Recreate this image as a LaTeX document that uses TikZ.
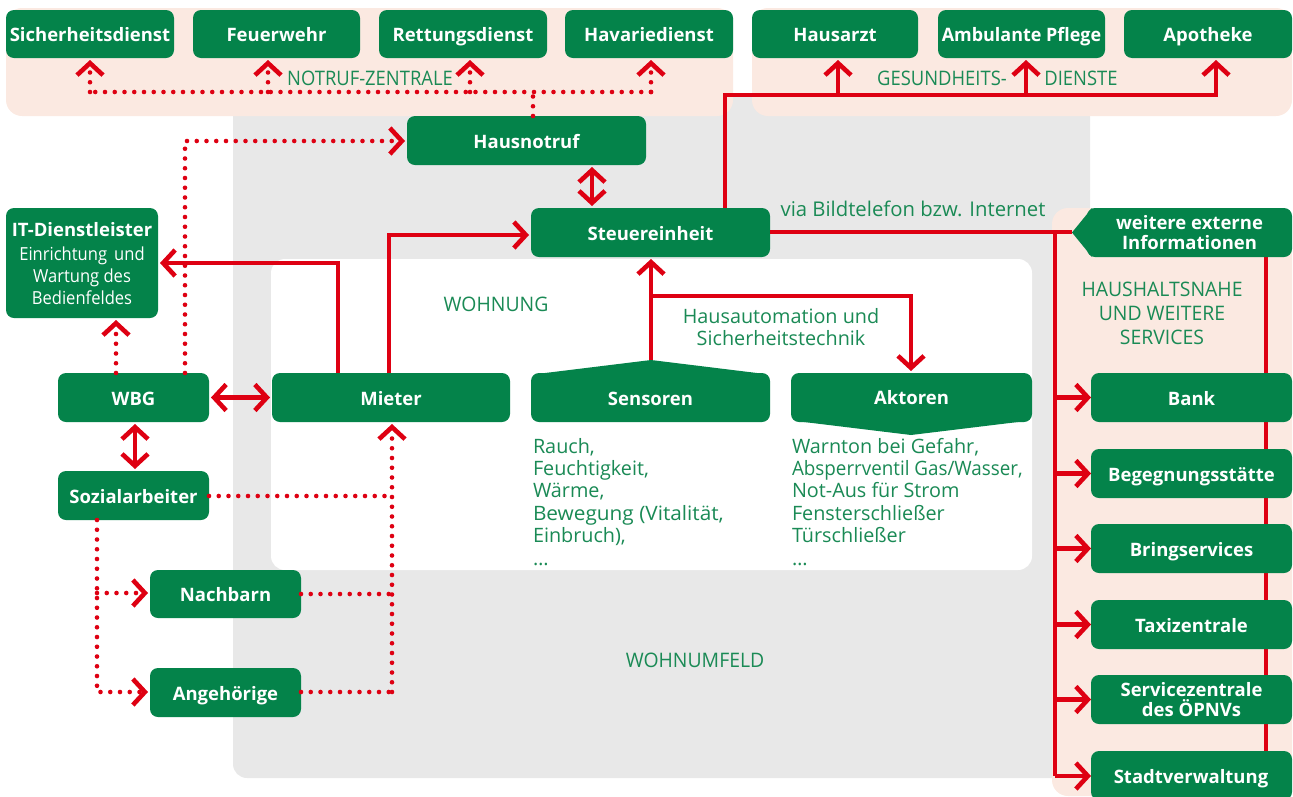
\documentclass[tikz,border=0pt]{standalone}
\usepackage{fontspec}
\setmainfont{Open Sans}
\usetikzlibrary{arrows.meta,calc}
\definecolor{gbox}{HTML}{04834A}
\definecolor{gtxt}{HTML}{1A8A55}
\definecolor{rline}{HTML}{DE0012}
\definecolor{pale}{HTML}{FBE9E1}
\definecolor{greybg}{HTML}{E8E8E8}
\tikzset{
  greenbox/.style={fill=gbox,text=white,rounded corners=8pt,inner sep=0pt,outer sep=0pt,align=center,
    font=\fontsize{18.5}{19.5}\selectfont\bfseries},
  oneline/.style={text height=15.5pt,text depth=0.5pt},
  lbl/.style={text=gtxt,inner sep=0pt,outer sep=0pt,font=\fontsize{19.8}{22.4}\selectfont},
  thin label/.style={text=gtxt,inner sep=0pt,outer sep=0pt,font=\fontsize{20}{24}\selectfont},
  redtip/.style={-{Straight Barb[length=12pt,width=26pt,line width=4.6pt]}},
  redboth/.style={{Straight Barb[length=12pt,width=26pt,line width=4.6pt]}-{Straight Barb[length=12pt,width=26pt,line width=4.6pt]}},
  solidline/.style={draw=rline,line width=4.3pt,line join=miter},
  dotline/.style={draw=rline,line width=4.6pt,line cap=round,dash pattern=on 0pt off 9.75pt},
  gap/.style={shorten >=2pt},
  gaps/.style={shorten >=2pt,shorten <=2pt},
}
\newcommand{\bx}[7][oneline]{\node[greenbox,#1,minimum width={(#5-#3)*1pt},minimum height={(#6-#4)*1pt}] (#2) at ({(#3+#5)/2},{(#4+#6)/2}) {#7};}
\begin{document}
\begin{tikzpicture}[x=1pt,y=-1pt]
\useasboundingbox (0,0) rectangle (1293,796);
% backgrounds
\fill[greybg,rounded corners=14pt] (233,95) rectangle (1090,778);
\fill[white,rounded corners=14pt] (271,259) rectangle (1032,570);
\fill[pale,rounded corners=16pt] (6,8) rectangle (733,116);
\fill[pale,rounded corners=16pt] (752,8) rectangle (1292,116);
\fill[pale,rounded corners=16pt] (1052,208) -- (1292,208) -- (1292,796) -- (1052,796) -- cycle;
% connectors behind boxes
\coordinate (sensortip) at (651,360);
\coordinate (aktortop) at (911,373);
\coordinate (weiteretip) at (1072,232);
% boxes
\bx{sicher}{6}{10}{174}{58}{Sicherheitsdienst}
\bx{feuer}{193}{10}{360}{58}{Feuerwehr}
\bx{rett}{379}{10}{547}{58}{Rettungsdienst}
\bx{hav}{565}{10}{733}{58}{Havariedienst}
\bx{arzt}{752}{10}{918}{58}{Hausarzt}
\bx{pflege}{938}{10}{1105}{58}{\scalebox{.97}[1]{Ambulante Pflege}}
\bx{apo}{1124}{10}{1292}{58}{Apotheke}
\bx{hn}{407}{116}{646}{165}{Hausnotruf}
\bx{steuer}{531}{208}{770}{257}{Steuereinheit}
\bx{wbg}{58}{373}{209}{422}{WBG}
\bx{mieter}{272}{373}{510}{422}{Mieter}
\bx{sozial}{58}{471}{209}{520}{Sozialarbeiter}
\bx{nachbarn}{150}{570}{301}{618}{Nachbarn}
\bx{angeh}{150}{668}{301}{717}{Angehörige}
\fill[gbox] (541,373.5) -- (651,360) -- (761,373.5) -- cycle;
\bx{sens}{531}{373}{770}{422}{Sensoren}
\fill[gbox] (800,421.5) -- (911,435) -- (1022,421.5) -- cycle;
\bx{akt}{791}{373}{1032}{422}{\raisebox{1pt}{Aktoren}}
\node[greenbox,minimum width=152pt,minimum height=110pt] (it) at (82,263) {};
\node[text=white,inner sep=0pt,align=center,font=\fontsize{18.5}{19.5}\selectfont\bfseries] (ittitle) at (82,230) {IT-Dienstleister};
\node[text=white,inner sep=0pt,align=center,font=\fontsize{18}{22}\selectfont] (ittext) at (82,276) {\scalebox{.92}[1]{Einrichtung\, und}\\\scalebox{.92}[1]{Wartung des}\\\scalebox{.92}[1]{Bedienfeldes}};
% right column line behind boxes
\draw[solidline] (1266,257) -- (1266,760);
\bx{bank}{1091}{373}{1292}{422}{Bank}
\bx{beg}{1091}{449}{1292}{498}{Begegnungsstätte}
\bx{bring}{1091}{524}{1292}{573}{Bringservices}
\bx{taxi}{1091}{600}{1292}{649}{Taxizentrale}
\bx[]{oepnv}{1091}{675}{1292}{724}{Servicezentrale\\des ÖPNVs}
\fill[gbox,rounded corners=8pt] (1091,800) -- (1091,751) -- (1292,751) -- (1292,800) -- cycle;
\node[text=white,inner sep=0pt,font=\fontsize{18.5}{19.5}\selectfont\bfseries,text height=15.5pt,text depth=0.5pt] (stadt) at (1191,776) {Stadtverwaltung};
\fill[gbox] (1092,208) -- (1072,232.5) -- (1092,257) -- cycle;
\bx[]{weitere}{1087}{208}{1292}{257}{weitere externe\\Informationen}
% labels
\node[thin label] (l1) at (370,78) {\scalebox{.92}[1]{NOTRUF-ZENTRALE}};
\node[thin label] (l2) at (942,78) {\scalebox{.92}[1]{GESUNDHEITS-}};
\node[thin label] (l3) at (1081,78) {\scalebox{.92}[1]{DIENSTE}};
\node[lbl,font=\fontsize{20.3}{22.5}\selectfont] (l4) at (913,209) {via Bildtelefon bzw. Internet};
\node[thin label] (l5) at (496,304) {\scalebox{.97}[1]{WOHNUNG}};
\node[thin label] (l6) at (695,660) {\scalebox{.97}[1]{WOHNUMFELD}};
\node[thin label,align=center] (l7) at (1162,313) {\scalebox{.97}[1]{HAUSHALTSNAHE}\\\scalebox{.97}[1]{UND WEITERE}\\\scalebox{.97}[1]{SERVICES}};
\node[lbl,align=center] (l8) at (781,327) {Hausautomation und\\Sicherheitstechnik};
\node[lbl,align=left,anchor=north west] (l9) at (533,438) {Rauch,\\Feuchtigkeit,\\Wärme,\\\scalebox{1.05}[1]{Bewegung (Vitalität,}\\Einbruch),\\…};
\node[lbl,align=left,anchor=north west] (l10) at (792,438) {Warnton bei Gefahr,\\\scalebox{.95}[1]{Absperrventil Gas/Wasser,}\\Not-Aus für Strom\\Fensterschließer\\Türschließer\\…};
% solid connectors
\draw[solidline] (steuer.east |- 0,232) -- (weiteretip);
\draw[solidline,redtip,gap] (725,0 |- steuer.north) -- (725,95) -- (1216,95) -- (1216,0 |- apo.south);
\draw[solidline,redtip,gap] (838,95) -- (838,0 |- arzt.south);
\draw[solidline,redtip,gap] (1026,95) -- (1026,0 |- pflege.south);
\draw[solidline,redboth,gaps] (592,0 |- hn.south) -- (592,0 |- steuer.north);
\draw[solidline,redtip,gap] (389,0 |- mieter.north) -- (389,235) -- (steuer.west |- 0,235);
\draw[solidline,redtip,gap] (338,0 |- mieter.north) -- (338,263) -- (it.east |- 0,263);
\draw[solidline,redboth,gaps] (wbg.east) -- (mieter.west);
\draw[solidline,redboth,gaps] (135,0 |- wbg.south) -- (135,0 |- sozial.north);
\draw[solidline,redtip,gap] (sensortip) -- (651,0 |- steuer.south);
\draw[solidline,redtip,gap] (651,296) -- (911,296) -- (aktortop);
\draw[solidline] (1055,232) -- (1055,776);
\foreach \n in {bank,beg,bring,taxi,oepnv}
  \draw[solidline,redtip] (1055,0 |- \n.west) -- (\n.west);
\draw[solidline,redtip] (1055,776) -- (1091,776);
% dotted connectors
\draw[dotline] (533,0 |- hn.north) -- (533,92);
\draw[dotline] (651,92) -- (90,92);
\draw[dotline,redtip,gap] (90,92) -- (90,0 |- sicher.south);
\draw[dotline,redtip,gap] (268,92) -- (268,0 |- feuer.south);
\draw[dotline,redtip,gap] (470,92) -- (470,0 |- rett.south);
\draw[dotline,redtip,gap] (651,92) -- (651,0 |- hav.south);
\draw[dotline,redtip,gap] (185,0 |- wbg.north) -- (185,141) -- (hn.west |- 0,141);
\draw[dotline,redtip,gap] (116,0 |- wbg.north) -- (116,0 |- it.south);
\draw[dotline] (sozial.east |- 0,496) -- (392,496);
\draw[dotline,redtip,gap] (392,692) -- (392,0 |- mieter.south);
\draw[dotline] (nachbarn.east |- 0,594) -- (392,594);
\draw[dotline] (angeh.east |- 0,692) -- (392,692);
\draw[dotline,redtip,gap] (97,0 |- sozial.south) -- (97,692) -- (angeh.west |- 0,692);
\draw[dotline,redtip,gap] (97,593) -- (nachbarn.west |- 0,593);
\end{tikzpicture}
\end{document}
